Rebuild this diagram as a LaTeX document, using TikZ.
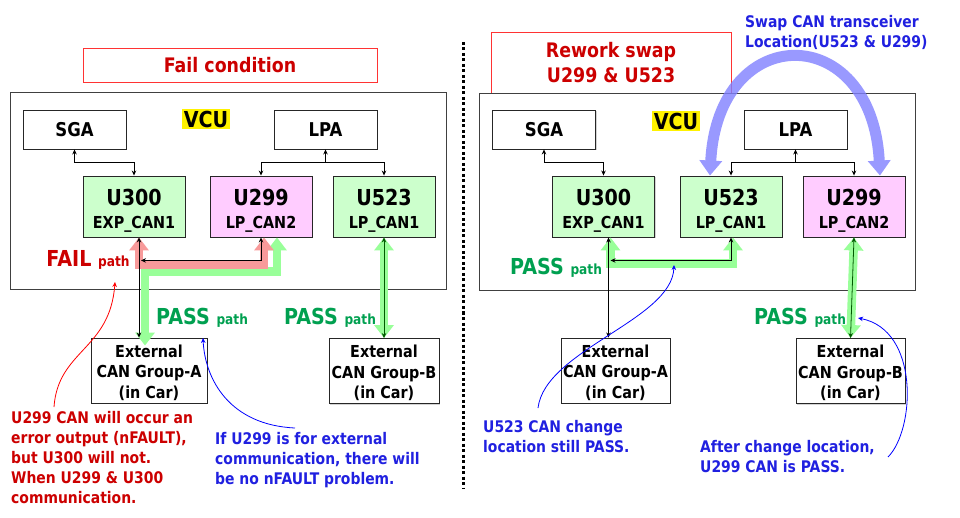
\documentclass[tikz,border=0pt]{standalone}
\usepackage{fontspec}
\setmainfont{DejaVu Sans}[FakeStretch=0.87]
\usetikzlibrary{positioning,arrows.meta,calc,shadows}

\definecolor{errred}{HTML}{CC0000}
\definecolor{passgreen}{HTML}{00A050}
\definecolor{notblue}{HTML}{2020E0}
\definecolor{chipgreen}{HTML}{CCFFCC}
\definecolor{chippink}{HTML}{FFCCFF}
\definecolor{pipegreen}{HTML}{99FF99}
\definecolor{pipered}{HTML}{F89A9A}
\definecolor{swapblue}{HTML}{7F7FFF}

\tikzset{
  blk/.style={draw=black!85, fill=white, line width=0.9pt, inner sep=0pt, align=center,
    font=\bfseries\fontsize{19}{22}\selectfont,
    drop shadow={shadow xshift=1.2pt, shadow yshift=-1.2pt, opacity=0.35}},
  chip/.style={blk, minimum width=102pt, minimum height=61pt, font=\bfseries\fontsize{16.5}{23}\selectfont},
  extbox/.style={blk, minimum height=65pt, font=\bfseries\fontsize{16.5}{20.5}\selectfont},
  vcubox/.style={draw=black!75, line width=1pt, minimum width=436pt, minimum height=197pt, inner sep=0pt},
  vcutag/.style={fill=yellow, inner sep=1.5pt, font=\bfseries\fontsize{22}{22}\selectfont},
  ttlbox/.style={draw=red!80, line width=0.9pt, text=errred, align=center, inner sep=0pt,
    font=\bfseries\fontsize{20}{25}\selectfont},
  note/.style={anchor=west, align=left, inner sep=0pt, font=\bfseries\fontsize{16}{20}\selectfont},
  pathtag/.style={inner sep=0pt, font=\bfseries\fontsize{22}{22}\selectfont},
  conn/.style={line width=0.8pt, >={Stealth[length=5pt,width=4.5pt]}},
  fat/.style={line width=8.5pt, {Triangle[width=19pt,length=13pt]}-{Triangle[width=19pt,length=13pt]}},
}
\newcommand{\chiptxt}[2]{{\fontsize{22}{23}\selectfont\rule{0pt}{24pt}#1}\\#2}
\newcommand{\exttxt}[1]{\rule{0pt}{17pt}External\\CAN Group-#1\\(in Car)}
\newcommand{\pth}{{\fontsize{14}{14}\selectfont path}}

\begin{document}
\begin{tikzpicture}[x=1pt,y=-1pt]
  \useasboundingbox (0,0) rectangle (960,518);

  % left: fail condition
  \node[ttlbox, minimum width=294pt, minimum height=34pt] (ttlL) at (230,65) {Fail condition};
  \node[vcubox] (vcuL) at (228,191.5) {};
  \node[vcutag] (tagL) at (206,119) {VCU};
  \node[blk, minimum width=103pt, minimum height=39pt] (sgaL) at (74.5,129.5) {SGA};
  \node[blk, minimum width=103pt, minimum height=39pt] (lpaL) at (325.5,129.5) {LPA};
  \node[chip, fill=chipgreen] (u300L) at (134,206.5) {\chiptxt{U300}{EXP\_CAN1}};
  \node[chip, fill=chippink] (u299L) at (261,206.5) {\chiptxt{U299}{LP\_CAN2}};
  \node[chip, fill=chipgreen] (u523L) at (384,206.5) {\chiptxt{U523}{LP\_CAN1}};
  \node[extbox, minimum width=116pt] (extAL) at (149,370.5) {\exttxt{A}};
  \node[extbox, minimum width=110pt] (extBL) at (384,371) {\exttxt{B}};

  \draw[conn,<->] (sgaL.south) -- ++(0,13) -| (u300L.north);
  \draw[conn,<-] (lpaL.south) -- ++(0,13) coordinate (jL);
  \draw[conn,->] (jL) -| (u299L.north);
  \draw[conn,->] (jL) -| (u523L.north);

  \coordinate (busL) at ($(u300L.south)+(5,0)$);
  \draw[fat, pipegreen] ($(extAL.north)+(-4,8)$) -- ++(0,-74) -| ($(u299L.south)+(16,0)$);
  \draw[fat, pipered] (busL) -- ++(0,27) -| ($(u299L.south)+(3,0)$);
  \draw[fat, pipegreen] (u523L.south) -- (extBL.north);
  \draw[conn,<->] (busL) -- (busL |- extAL.north);
  \draw[conn,<->] (u299L.south) -- ++(0,23) -- ($(busL)+(2,23)$);
  \draw[conn,<->, green!35!black] (u523L.south) -- (extBL.north);

  \node[pathtag, text=errred] (failL) at (88,260) {FAIL \pth};
  \node[pathtag, text=passgreen] (passAL) at (202,318) {PASS \pth};
  \node[pathtag, text=passgreen] (passBL) at (330,318) {PASS \pth};

  \node[note, text=errred] (noteFail) at (11,458)
    {U299 CAN will occur an\\error output (nFAULT),\\but U300 will not.\\When U299 \& U300\\communication.};
  \node[note, text=notblue] (noteExt) at (215,460)
    {If U299 is for external\\communication, there will\\be no nFAULT problem.};
  \draw[conn, ->, red] (54,407) .. controls (58,350) and (110,350) .. (115,282);
  \draw[conn, ->, blue] (295,428) .. controls (230,425) and (205,380) .. (203,338);

  % separator
  \draw[line width=3pt, dash pattern=on 3pt off 2.5pt] (463,42) -- (463,488);

  % right: rework swap
  \node[ttlbox, minimum width=240pt, minimum height=61pt] (ttlR) at (611,62.5) {Rework swap\\U299 \& U523};
  \node[vcubox] (vcuR) at (697,192) {};
  \node[vcutag] (tagR) at (676,121) {VCU};
  \node[blk, minimum width=103pt, minimum height=39pt] (sgaR) at (544,129.5) {SGA};
  \node[blk, minimum width=103pt, minimum height=39pt] (lpaR) at (795.5,129.5) {LPA};
  \node[chip, fill=chipgreen] (u300R) at (603.5,206.5) {\chiptxt{U300}{EXP\_CAN1}};
  \node[chip, fill=chipgreen] (u523R) at (731,206.5) {\chiptxt{U523}{LP\_CAN1}};
  \node[chip, fill=chippink] (u299R) at (854,206.5) {\chiptxt{U299}{LP\_CAN2}};
  \node[extbox, minimum width=109pt] (extAR) at (615.5,370.5) {\exttxt{A}};
  \node[extbox, minimum width=109pt] (extBR) at (850.5,371) {\exttxt{B}};

  \draw[conn,<->] (sgaR.south) -- ++(0,13) -| (u300R.north);
  \draw[conn,<-] (lpaR.south) -- ++(0,13) coordinate (jR);
  \draw[conn,->] (jR) -| (u523R.north);
  \draw[conn,->] (jR) -| (u299R.north);

  \coordinate (busR) at ($(u300R.south)+(5,0)$);
  \draw[fat, pipegreen] ($(busR)+(2,0)$) -- ++(0,26) -| ($(u523R.south)+(2,0)$);
  \draw[fat, pipegreen] (u299R.south) -- (extBR.north);
  \draw[conn,<->] (busR) -- (busR |- extAR.north);
  \draw[conn,<->] (u523R.south) -- ++(0,23) -- ($(busR)+(2,23)$);
  \draw[conn,<->, green!35!black] (u299R.south) -- (extBR.north);

  \begin{scope}[transparency group, opacity=0.8]
    \draw[swapblue, line width=11pt, {Triangle[width=22pt,length=15pt]}-{Triangle[width=22pt,length=15pt]}]
      ($(u523R.north)+(-21,0)$) .. controls (718,20) and (872,20) .. ($(u299R.north)+(26,0)$);
  \end{scope}
  \node[note, text=notblue] (noteSwap) at (745,32) {Swap CAN transceiver\\Location(U523 \& U299)};

  \node[pathtag, text=passgreen] (passAR) at (556,268) {PASS \pth};
  \node[pathtag, text=passgreen] (passBR) at (800,318) {PASS \pth};

  \node[note, text=notblue] (noteA) at (483,436.5) {U523 CAN change\\location still PASS.};
  \node[note, text=notblue] (noteB) at (700,457) {After change location,\\U299 CAN is PASS.};
  \draw[conn, ->, blue] (538,408) .. controls (545,350) and (672,320) .. (674,265);
  \draw[conn, ->, blue] (888,457) .. controls (915,430) and (920,330) .. (858,318);
\end{tikzpicture}
\end{document}
